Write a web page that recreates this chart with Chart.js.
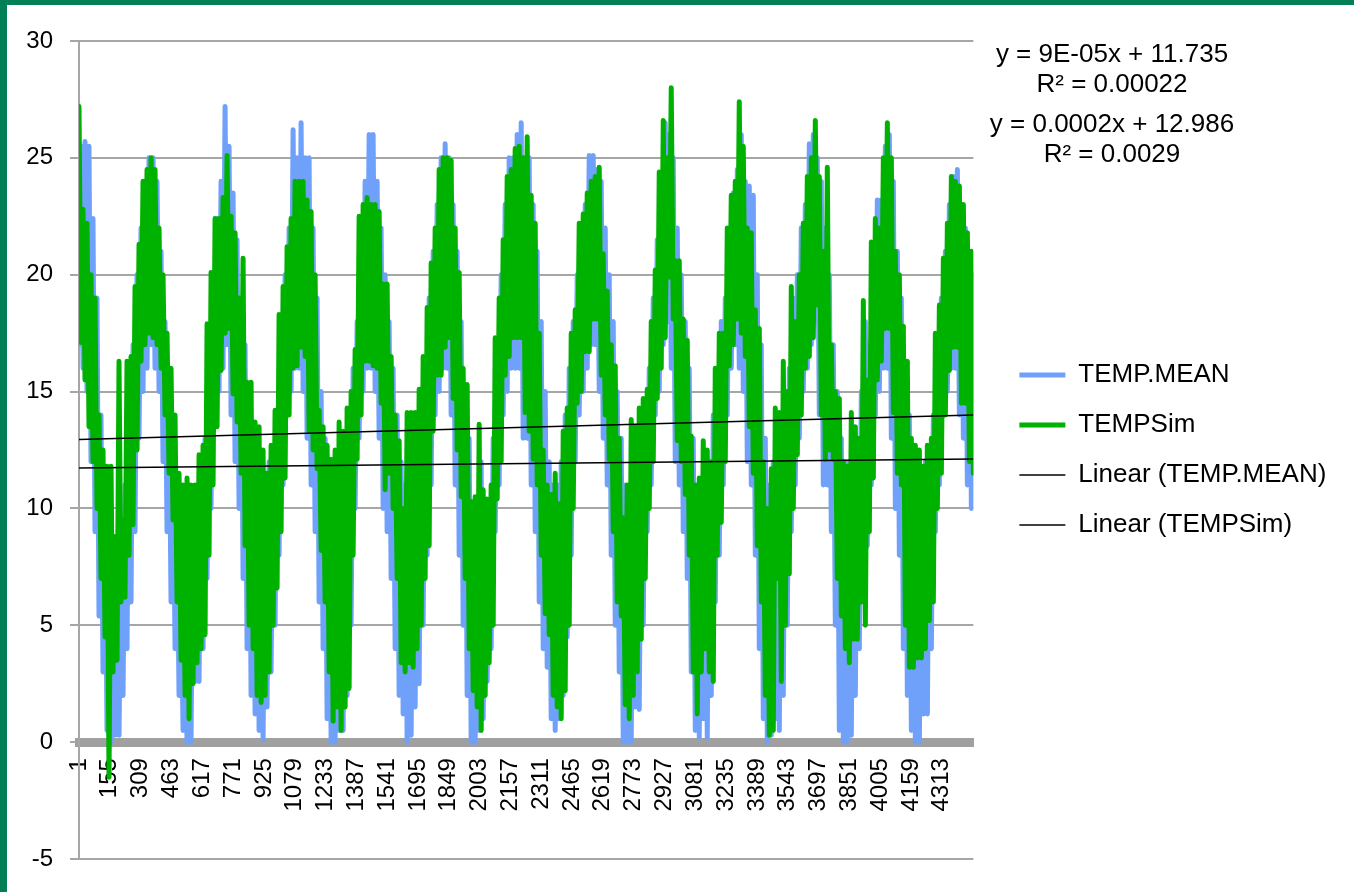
<!DOCTYPE html>
<html>
<head>
<meta charset="utf-8">
<title>TEMP.MEAN vs TEMPSim</title>
<script src="https://cdn.jsdelivr.net/npm/chart.js@4.4.1/dist/chart.umd.min.js"></script>
<style>
  html, body { margin: 0; padding: 0; width: 1354px; height: 892px; overflow: hidden; background: #037f58; }
  #wrap { position: absolute; left: 7px; top: 5px; width: 1347px; height: 887px; background: #fff; }
</style>
</head>
<body>
<div id="wrap"><canvas id="chart"></canvas></div>
<script>
// readings in 20-day windows starting at day 1: the window's high and low
const step = 20;
const lastDay = 4471;

// TEMPSim (simulated)
const simHigh = [
  27.2, 22.8, 22.2, 20.0, 19.0, 14.0, 12.5, 11.8, 11.8, 8.8, 16.3, 9.5, 16.3, 16.5, 19.5, 21.3,
  24.0, 24.5, 25.0, 24.5, 22.0, 20.0, 17.5, 16.0, 14.0, 11.5, 11.0, 11.3, 11.0, 11.0, 12.3, 12.7,
  17.9, 20.1, 22.4, 22.4, 23.3, 25.1, 22.5, 21.8, 19.0, 20.7, 15.4, 15.4, 13.7, 13.5, 12.5, 11.5,
  12.7, 14.2, 18.3, 19.5, 21.2, 22.4, 24.0, 24.0, 24.0, 23.2, 22.7, 20.0, 14.2, 13.5, 12.7, 12.1,
  12.5, 13.7, 13.3, 14.3, 15.0, 16.8, 22.5, 23.0, 23.3, 23.0, 23.0, 22.7, 19.6, 19.6, 16.5, 14.0,
  12.9, 10.0, 14.1, 14.1, 14.1, 15.1, 16.5, 18.6, 20.5, 22.0, 24.5, 25.0, 25.0, 24.9, 22.0, 20.1,
  16.0, 15.3, 10.3, 10.5, 13.6, 10.8, 10.4, 11.0, 17.3, 19.0, 21.5, 24.2, 24.5, 25.4, 25.5, 25.0,
  25.9, 23.4, 22.2, 17.5, 12.5, 11.0, 10.6, 11.5, 10.2, 13.3, 14.3, 17.5, 18.5, 22.2, 22.6, 23.5,
  24.0, 24.2, 24.6, 20.9, 19.3, 17.0, 16.1, 13.0, 9.6, 11.0, 13.8, 13.5, 14.3, 14.7, 15.1, 18.0,
  20.2, 24.4, 26.6, 25.0, 28.0, 20.6, 20.6, 18.1, 17.2, 13.1, 11.0, 11.3, 12.9, 12.5, 12.0, 16.0,
  17.5, 17.5, 22.0, 23.4, 24.0, 27.4, 25.5, 22.0, 21.8, 18.5, 17.7, 12.0, 10.0, 11.7, 14.3, 14.1,
  16.3, 15.0, 19.5, 18.0, 20.0, 22.2, 24.2, 25.0, 26.6, 24.2, 21.0, 24.6, 17.0, 15.0, 14.7, 12.0,
  11.8, 14.1, 13.5, 13.0, 18.9, 15.5, 21.4, 22.4, 22.0, 25.0, 26.5, 25.0, 21.0, 20.0, 17.8, 16.3,
  13.0, 12.7, 12.5, 11.8, 12.7, 13.0, 17.5, 18.7, 20.7, 22.2, 24.2, 24.0, 23.8, 23.0, 21.8, 21.0
];
const simLow = [
  17.1, 15.5, 13.5, 12.0, 10.0, 7.0, 4.5, -1.5, 3.0, 3.5, 6.0, 6.2, 8.0, 9.3, 12.5, 16.3,
  17.0, 17.5, 17.3, 17.0, 16.0, 14.0, 11.5, 9.5, 6.0, 3.5, 2.0, 1.0, 2.5, 3.4, 4.0, 4.6,
  8.0, 11.0, 13.5, 15.9, 17.5, 17.7, 14.9, 13.7, 11.5, 8.4, 5.0, 4.0, 2.0, 1.7, 2.0, 3.0,
  5.0, 6.6, 9.0, 11.3, 14.0, 16.0, 16.1, 16.9, 16.5, 13.3, 12.5, 11.7, 8.2, 6.0, 3.0, 0.9,
  1.5, 0.5, 1.5, 2.3, 8.0, 12.1, 14.0, 16.3, 16.3, 16.1, 16.0, 14.5, 10.8, 11.5, 10.0, 7.0,
  3.4, 3.0, 3.4, 3.2, 4.0, 5.0, 7.0, 8.4, 13.3, 15.7, 15.7, 16.9, 17.3, 14.7, 12.5, 10.5,
  7.0, 4.0, 2.2, 1.5, 0.5, 2.0, 3.4, 5.0, 10.4, 12.0, 15.7, 16.5, 17.3, 17.3, 17.3, 14.1,
  13.3, 12.1, 11.0, 8.0, 5.5, 4.6, 2.0, 1.5, 1.0, 2.2, 5.0, 10.0, 14.5, 15.0, 16.7, 16.7,
  18.1, 18.1, 15.7, 14.0, 12.1, 9.0, 6.0, 5.4, 1.6, 1.0, 2.0, 3.0, 4.4, 7.0, 10.0, 12.0,
  14.7, 16.0, 17.3, 19.9, 18.1, 12.9, 12.0, 10.6, 8.0, 3.0, 1.2, 3.0, 4.0, 3.0, 2.6, 8.0,
  9.4, 12.0, 16.1, 17.0, 18.1, 17.5, 16.5, 13.5, 11.5, 8.4, 6.0, 2.0, 0.3, 0.5, 7.0, 2.6,
  5.0, 7.2, 10.0, 12.3, 14.0, 16.0, 16.5, 17.3, 18.7, 14.0, 12.1, 12.5, 12.1, 7.0, 5.4, 4.0,
  3.4, 4.4, 4.4, 6.0, 5.0, 9.0, 11.3, 15.5, 16.3, 17.7, 17.7, 14.1, 11.5, 11.0, 5.0, 3.2,
  3.2, 3.6, 3.6, 4.0, 5.2, 6.0, 10.0, 11.5, 14.0, 15.9, 16.9, 16.9, 14.5, 14.5, 12.0, 11.5
];

// TEMP.MEAN (observed)
const meanHigh = [
  25.5, 25.7, 25.5, 22.4, 19.0, 14.0, 11.0, 7.0, 5.0, 5.0, 8.0, 11.0, 15.0, 17.0, 20.0, 22.0,
  24.0, 25.0, 25.0, 24.0, 21.0, 18.0, 15.0, 13.0, 10.0, 7.0, 5.0, 9.0, 10.0, 11.0, 12.0, 13.0,
  16.0, 20.0, 22.4, 24.0, 27.2, 25.5, 23.5, 21.5, 19.0, 17.0, 15.0, 13.0, 12.0, 11.0, 10.0, 12.0,
  12.0, 14.0, 17.0, 20.0, 22.0, 26.2, 25.0, 26.5, 25.0, 25.0, 22.0, 19.0, 15.0, 13.0, 12.0, 11.0,
  12.0, 12.0, 13.0, 14.0, 16.0, 18.0, 21.0, 24.0, 26.0, 26.0, 24.0, 22.0, 20.0, 18.0, 16.0, 14.0,
  12.0, 11.0, 10.0, 12.0, 12.0, 14.0, 16.0, 19.0, 21.0, 23.0, 25.0, 25.6, 25.0, 23.0, 21.0, 18.0,
  15.0, 13.0, 10.0, 10.0, 12.0, 10.0, 10.0, 13.0, 16.0, 20.0, 23.0, 25.0, 25.0, 26.0, 26.5, 25.0,
  25.0, 23.0, 21.0, 18.0, 15.0, 12.0, 11.0, 11.0, 12.0, 14.0, 16.0, 18.0, 20.0, 22.0, 23.0, 25.1,
  25.1, 24.5, 24.0, 22.0, 20.0, 18.0, 15.0, 13.0, 11.0, 11.0, 12.0, 12.0, 12.0, 14.0, 16.0, 19.0,
  21.5, 23.5, 26.5, 26.0, 25.0, 22.0, 20.0, 18.0, 16.0, 13.0, 11.0, 11.0, 12.0, 12.0, 14.0, 16.0,
  18.0, 19.0, 22.0, 23.5, 24.5, 26.0, 24.0, 23.8, 23.4, 20.0, 17.0, 13.0, 11.0, 12.0, 12.0, 14.0,
  15.0, 16.0, 19.0, 20.0, 22.0, 23.0, 25.6, 26.0, 25.0, 24.0, 22.0, 20.0, 17.0, 15.0, 13.0, 12.0,
  12.0, 13.0, 13.0, 15.0, 18.0, 17.0, 21.0, 23.2, 23.2, 25.5, 26.0, 24.0, 21.0, 19.0, 16.0, 14.0,
  12.0, 11.0, 11.0, 12.0, 12.0, 14.0, 17.0, 19.0, 21.0, 23.0, 24.2, 24.5, 23.0, 22.0, 21.0, 20.0
];
const meanLow = [
  17.0, 16.0, 15.0, 12.0, 9.0, 5.4, 3.0, 0.5, 0.0, 0.3, 0.3, 2.0, 4.0, 6.0, 9.0, 13.0,
  15.0, 16.0, 17.0, 16.0, 15.0, 12.0, 9.0, 6.0, 4.0, 2.0, 0.5, 0.0, 0.0, 2.6, 2.6, 4.0,
  7.0, 10.0, 13.7, 15.0, 16.0, 17.0, 14.0, 12.0, 10.0, 7.0, 4.0, 2.0, 1.2, 0.5, 0.1, 1.5,
  3.0, 5.0, 8.0, 11.0, 14.0, 15.0, 16.0, 16.0, 15.0, 13.0, 11.0, 9.0, 6.0, 4.0, 1.0, 0.0,
  0.0, 0.5, 0.5, 2.0, 5.0, 10.0, 13.0, 15.0, 16.0, 16.0, 15.0, 13.0, 10.0, 9.0, 7.0, 4.0,
  2.0, 1.2, 0.0, 0.3, 1.5, 2.5, 5.0, 8.0, 11.0, 14.0, 15.0, 16.0, 16.0, 14.0, 11.0, 8.0,
  5.0, 2.0, 0.0, 0.0, 0.5, 1.0, 2.6, 4.0, 9.0, 11.0, 14.0, 15.0, 16.0, 16.0, 16.0, 13.0,
  13.0, 11.0, 9.0, 6.0, 4.0, 3.2, 1.0, 0.5, 1.0, 2.0, 4.5, 8.0, 12.0, 14.0, 15.0, 16.0,
  17.0, 17.0, 15.0, 13.0, 11.0, 8.0, 5.0, 3.0, 0.0, 0.0, 0.0, 1.5, 1.4, 5.0, 9.0, 11.0,
  14.0, 15.0, 17.0, 18.0, 16.0, 12.0, 11.0, 9.0, 7.0, 3.0, 0.5, 0.2, 1.0, 0.2, 2.0, 6.0,
  8.0, 11.0, 14.0, 16.0, 17.0, 16.0, 15.0, 12.0, 11.0, 8.0, 4.0, 1.0, 0.0, 0.3, 1.0, 0.5,
  2.0, 5.0, 9.0, 11.0, 13.0, 15.0, 16.0, 17.0, 18.0, 14.0, 11.0, 11.0, 9.0, 5.0, 0.5, 0.0,
  0.0, 0.3, 2.0, 4.0, 7.0, 8.4, 11.0, 14.0, 15.0, 16.0, 16.0, 13.0, 10.0, 8.0, 4.0, 2.0,
  0.5, 0.0, 0.0, 1.2, 1.2, 4.0, 9.0, 11.0, 14.0, 15.0, 16.0, 16.0, 14.0, 13.0, 11.0, 10.0
];

// trend lines, value at first and last day
const trendMean = [11.73, 12.12];
const trendSim = [12.95, 14.0];

// x axis labels (every 154 days)
const tickLabels = [1, 155, 309, 463, 617, 771, 925, 1079, 1233, 1387, 1541, 1695, 1849, 2003,
  2157, 2311, 2465, 2619, 2773, 2927, 3081, 3235, 3389, 3543, 3697, 3851, 4005, 4159, 4313];

// y axis
const yMin = -5, yMax = 30, yStep = 5;

const equations = ['y = 9E-05x + 11.735', 'R² = 0.00022', 'y = 0.0002x + 12.986', 'R² = 0.0029'];

const FONT = '"Liberation Sans", Arial, sans-serif';

// each window gives two points, 10 days apart
function windowPoints(first, second) {
  const pts = [];
  first.forEach((v, i) => {
    pts.push({ x: 1 + i * step, y: v });
    pts.push({ x: 1 + i * step + step / 2, y: second[i] });
  });
  return pts;
}
const trendPoints = t => [{ x: 1, y: t[0] }, { x: lastDay, y: t[1] }];

// equations in the top right corner
const equationText = {
  id: 'equationText',
  afterDraw(chart) {
    const c = chart.ctx;
    const ys = [50, 80, 120, 150];
    c.save();
    c.font = '26px ' + FONT;
    c.fillStyle = '#000';
    c.textAlign = 'center';
    c.textBaseline = 'middle';
    equations.forEach((t, i) => c.fillText(t, 1105, ys[i]));
    c.restore();
  }
};

const lineStyle = {
  pointRadius: 0,
  pointHoverRadius: 0,
  tension: 0,
  fill: false,
  borderJoinStyle: 'round',
  borderCapStyle: 'round',
};

new Chart(document.getElementById('chart'), {
  type: 'line',
  data: {
    datasets: [
      { ...lineStyle, label: 'TEMP.MEAN', data: windowPoints(meanLow, meanHigh), borderColor: '#6fa1fb', borderWidth: 5, order: 3 },
      { ...lineStyle, label: 'TEMPSim', data: windowPoints(simHigh, simLow), borderColor: '#00b200', borderWidth: 5, order: 2 },
      { ...lineStyle, label: 'Linear (TEMP.MEAN)', data: trendPoints(trendMean), borderColor: '#000', borderWidth: 1.5, borderCapStyle: 'butt', order: 1 },
      { ...lineStyle, label: 'Linear (TEMPSim)', data: trendPoints(trendSim), borderColor: '#000', borderWidth: 1.5, borderCapStyle: 'butt', order: 0 },
    ],
  },
  options: {
    responsive: true,
    maintainAspectRatio: false,
    animation: false,
    events: [],
    layout: { padding: { top: 36, bottom: 33, left: 0, right: 17.6 } },
    plugins: {
      legend: {
        position: 'right',
        maxWidth: 400,
        labels: {
          usePointStyle: true,
          pointStyle: 'line',
          pointStyleWidth: 46,
          padding: 24,
          color: '#000',
          font: { size: 26, family: FONT },
          sort: (a, b) => a.datasetIndex - b.datasetIndex,
        },
      },
      tooltip: { enabled: false },
    },
    scales: {
      x: {
        type: 'linear',
        min: 1,
        max: lastDay,
        position: { y: 0 },
        grid: { display: false, drawTicks: false },
        border: { display: true, color: '#a0a0a0', width: 9 },
        afterBuildTicks: axis => { axis.ticks = tickLabels.map(v => ({ value: v })); },
        afterFit: axis => { axis.height = 0; },
        ticks: {
          autoSkip: false,
          minRotation: 90,
          maxRotation: 90,
          padding: 16,
          color: '#000',
          font: { size: 24, family: FONT },
          callback: v => String(v),
        },
      },
      y: {
        min: yMin,
        max: yMax,
        ticks: { stepSize: yStep, padding: 17, color: '#000', font: { size: 24, family: FONT } },
        grid: { color: '#a6a6a6', lineWidth: 2, tickLength: 9 },
        border: { color: '#a6a6a6', width: 2 },
        afterFit: axis => { axis.width = 72; },
      },
      // empty space between the plot and the legend
      gap: {
        type: 'linear',
        axis: 'y',
        position: 'right',
        display: true,
        grid: { display: false },
        border: { display: false },
        ticks: { display: false },
        afterFit: axis => { axis.width = 22; },
      },
    },
  },
  plugins: [equationText],
});
</script>
</body>
</html>
